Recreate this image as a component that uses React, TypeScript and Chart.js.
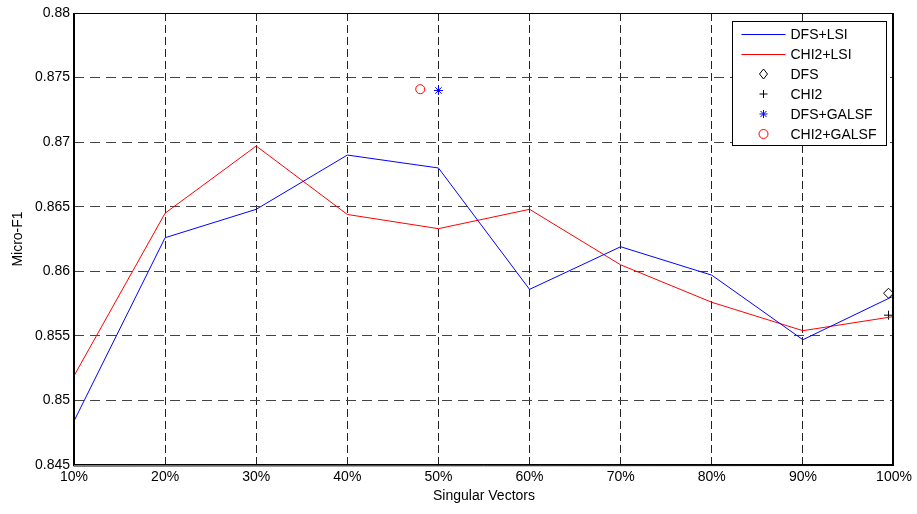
import React, { useEffect, useRef } from "react";
import { Chart, registerables } from "chart.js";

Chart.register(...registerables);

const xPercents = [10, 20, 30, 40, 50, 60, 70, 80, 90, 100];
const dfsLsi = [0.8484, 0.8626, 0.8648, 0.8690, 0.8680, 0.8586, 0.8619, 0.8597, 0.8547, 0.8581];
const chi2Lsi = [0.8519, 0.8645, 0.8697, 0.8644, 0.8633, 0.8648, 0.8605, 0.8576, 0.8554, 0.8565];

const dfsPoint = [{ x: 99.4, y: 0.8583 }];
const chi2Point = [{ x: 99.4, y: 0.8566 }];
const dfsGalsfPoint = [{ x: 50, y: 0.8740 }];
const chi2GalsfPoint = [{ x: 48, y: 0.8741 }];

const seriesLabels = ["DFS+LSI", "CHI2+LSI", "DFS", "CHI2", "DFS+GALSF", "CHI2+GALSF"];
const yMin = 0.845;
const yMax = 0.88;
const yStep = 0.005;
const xMin = 10;
const xMax = 100;

const FONT = "'Liberation Sans', Arial, Helvetica, sans-serif";

function drawMarker(ctx: CanvasRenderingContext2D, kind: string, x: number, y: number, color: string) {
  ctx.save();
  ctx.strokeStyle = color;
  ctx.lineWidth = 1;
  ctx.beginPath();
  if (kind === "diamond") {
    ctx.moveTo(x, y - 5);
    ctx.lineTo(x + 4, y);
    ctx.lineTo(x, y + 5);
    ctx.lineTo(x - 4, y);
    ctx.closePath();
  } else if (kind === "plus") {
    ctx.moveTo(x - 4, y);
    ctx.lineTo(x + 4, y);
    ctx.moveTo(x, y - 4);
    ctx.lineTo(x, y + 4);
  } else if (kind === "star") {
    ctx.moveTo(x - 4, y);
    ctx.lineTo(x + 4, y);
    ctx.moveTo(x, y - 4);
    ctx.lineTo(x, y + 4);
    ctx.moveTo(x - 3, y - 3);
    ctx.lineTo(x + 3, y + 3);
    ctx.moveTo(x - 3, y + 3);
    ctx.lineTo(x + 3, y - 3);
  } else if (kind === "circle") {
    ctx.arc(x, y, 4.5, 0, Math.PI * 2);
  }
  ctx.stroke();
  ctx.restore();
}

const framePlugin = {
  id: "frameLegend",
  afterDraw(chart: any) {
    const { ctx, chartArea: a } = chart;
    ctx.save();
    ctx.strokeStyle = "#000";
    ctx.lineWidth = 1;
    ctx.strokeRect(Math.round(a.left) + 0.5, Math.round(a.top) + 0.5, Math.round(a.right - a.left) - 1, Math.round(a.bottom - a.top) - 1);
    ctx.lineWidth = 1;
    ctx.beginPath();
    ctx.moveTo(Math.round(a.left) - 0.5, a.top);
    ctx.lineTo(Math.round(a.left) - 0.5, a.bottom + 1);
    ctx.lineTo(a.right, Math.round(a.bottom) + 0.5);
    ctx.moveTo(Math.round(a.right) - 1.5, a.top);
    ctx.lineTo(Math.round(a.right) - 1.5, a.bottom);
    ctx.stroke();

    // legend box
    const bx = Math.round(a.right) - 161.5;
    const by = Math.round(a.top) + 8.5;
    const bw = 154;
    const bh = 124;
    ctx.fillStyle = "#fff";
    ctx.fillRect(bx, by, bw, bh);
    ctx.strokeStyle = "#000";
    ctx.strokeRect(bx, by, bw, bh);

    const kinds = ["line", "line", "diamond", "plus", "star", "circle"];
    const colors = ["#0000ff", "#ff0000", "#000000", "#000000", "#0000ff", "#ff0000"];
    ctx.font = `14px ${FONT}`;
    ctx.textBaseline = "middle";
    ctx.textAlign = "left";
    for (let i = 0; i < seriesLabels.length; i++) {
      const cy = by + 12.5 + i * 20;
      if (kinds[i] === "line") {
        ctx.strokeStyle = colors[i];
        ctx.lineWidth = 1;
        ctx.beginPath();
        ctx.moveTo(bx + 9, Math.round(cy) + 0.5);
        ctx.lineTo(bx + 53, Math.round(cy) + 0.5);
        ctx.stroke();
      } else {
        drawMarker(ctx, kinds[i], bx + 31, cy, colors[i]);
      }
      ctx.fillStyle = "#000";
      ctx.fillText(seriesLabels[i], bx + 58, cy + 1);
    }
    ctx.restore();
  },
};

export default function App() {
  const canvasRef = useRef<HTMLCanvasElement | null>(null);

  useEffect(() => {
    const canvas = canvasRef.current;
    if (!canvas) return;
    const toXY = (vals: number[]) => vals.map((v, i) => ({ x: xPercents[i], y: v }));

    const chart = new Chart(canvas, {
      type: "line",
      data: {
        datasets: [
          {
            label: seriesLabels[0],
            data: toXY(dfsLsi),
            borderColor: "#0000ff",
            borderWidth: 1,
            pointRadius: 0,
            tension: 0,
            fill: false,
          },
          {
            label: seriesLabels[1],
            data: toXY(chi2Lsi),
            borderColor: "#ff0000",
            borderWidth: 1,
            pointRadius: 0,
            tension: 0,
            fill: false,
          },
          {
            label: seriesLabels[2],
            data: dfsPoint,
            showLine: false,
            pointStyle: "rectRot",
            pointRadius: 5,
            borderColor: "#000000",
            backgroundColor: "rgba(0,0,0,0)",
            pointBorderWidth: 1,
          },
          {
            label: seriesLabels[3],
            data: chi2Point,
            showLine: false,
            pointStyle: "cross",
            pointRadius: 4.5,
            borderColor: "#000000",
            backgroundColor: "rgba(0,0,0,0)",
            pointBorderWidth: 1,
          },
          {
            label: seriesLabels[4],
            data: dfsGalsfPoint,
            showLine: false,
            pointStyle: "star",
            pointRadius: 4.5,
            borderColor: "#0000ff",
            backgroundColor: "rgba(0,0,0,0)",
            pointBorderWidth: 1,
          },
          {
            label: seriesLabels[5],
            data: chi2GalsfPoint,
            showLine: false,
            pointStyle: "circle",
            pointRadius: 4.5,
            borderColor: "#ff0000",
            backgroundColor: "rgba(0,0,0,0)",
            pointBorderWidth: 1,
          },
        ],
      },
      options: {
        responsive: false,
        animation: false,
        devicePixelRatio: 1,
        layout: { padding: { top: 13, right: 23, left: 0, bottom: 0 } },
        plugins: {
          legend: { display: false },
          tooltip: { enabled: false },
        },
        scales: {
          x: {
            type: "linear",
            min: xMin,
            max: xMax,
            afterFit: (scale: any) => {
              scale.height = 49;
            },
            ticks: {
              stepSize: 10,
              color: "#000",
              padding: 4,
              maxRotation: 0,
              font: { family: FONT, size: 14 },
              callback: (v: any) => `${v}%`,
            },
            grid: {
              drawTicks: false,
              color: (c: any) =>
                c.tick && (c.tick.value === xMin || c.tick.value === xMax) ? "rgba(0,0,0,0)" : "#222",
              lineWidth: 1,
            },
            border: { display: false, dash: [8, 4] },
            title: {
              display: true,
              text: "Singular Vectors",
              color: "#000",
              font: { family: FONT, size: 14 },
              padding: { top: 0, bottom: 9 },
            },
          },
          y: {
            type: "linear",
            min: yMin,
            max: yMax,
            afterFit: (scale: any) => {
              scale.width = 74;
            },
            ticks: {
              stepSize: yStep,
              color: "#000",
              padding: 4,
              font: { family: FONT, size: 14 },
              callback: (v: any) => parseFloat(Number(v).toFixed(3)).toString(),
            },
            grid: {
              drawTicks: false,
              color: (c: any) =>
                c.tick && (Math.abs(c.tick.value - yMin) < 1e-9 || Math.abs(c.tick.value - yMax) < 1e-9)
                  ? "rgba(0,0,0,0)"
                  : "#444",
              lineWidth: 1,
            },
            border: { display: false, dash: [10, 6] },
            title: {
              display: true,
              text: "Micro-F1",
              color: "#000",
              font: { family: FONT, size: 14 },
              padding: { top: 10, bottom: 0 },
            },
          },
        },
      },
      plugins: [framePlugin],
    });

    return () => {
      chart.destroy();
    };
  }, []);

  return (
    <div style={{ position: "absolute", left: 0, top: 0, width: 917, height: 514, background: "#fff" }}>
      <canvas ref={canvasRef} width={917} height={514} style={{ display: "block", width: 917, height: 514 }} />
    </div>
  );
}
